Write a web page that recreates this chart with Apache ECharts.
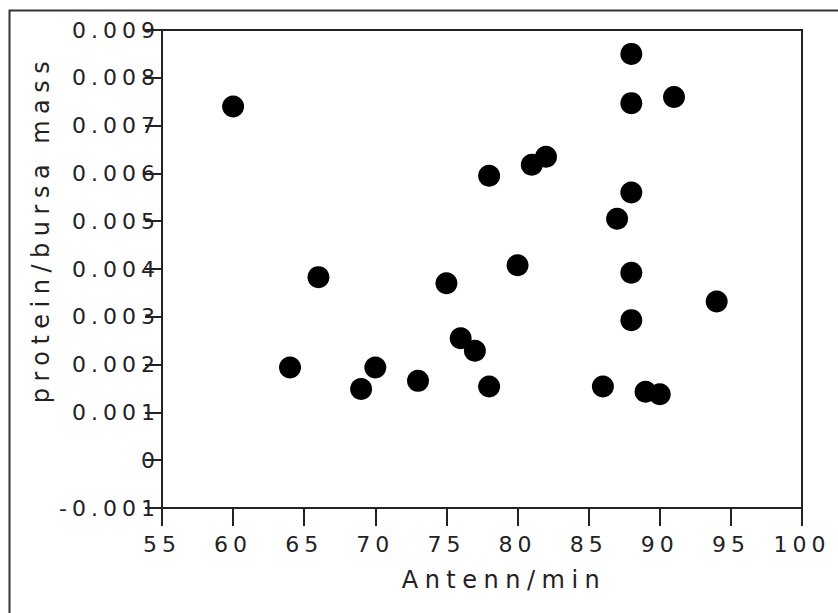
<!DOCTYPE html>
<html>
<head>
<meta charset="utf-8">
<script src="https://cdn.jsdelivr.net/npm/echarts@6/dist/echarts.min.js"></script>
<style>
  html, body { margin: 0; padding: 0; background: #fff; }
  #chart { width: 838px; height: 613px; }
  #chart svg text { letter-spacing: 5px; }
  #chart svg text.title { letter-spacing: 6.5px; }
</style>
</head>
<body>
<div id="chart"></div>
<script>
// Data
const antennPerMin = [60, 88, 91, 88, 82, 81, 78, 88, 87, 80, 88, 94, 88, 78, 86, 89, 90, 66, 75, 76, 77, 64, 70, 69, 73];
const proteinPerBursaMass = [0.0074, 0.0085, 0.0076, 0.00747, 0.00635, 0.00618, 0.00595, 0.0056, 0.00505, 0.00408, 0.00392, 0.00332, 0.00293, 0.00154, 0.00154, 0.00143, 0.00138, 0.00383, 0.0037, 0.00255, 0.00229, 0.00194, 0.00194, 0.00149, 0.00166];
const xTickLabels = ['55', '60', '65', '70', '75', '80', '85', '90', '95', '100'];
const yTickLabels = ['-0.001', '0', '0.001', '0.002', '0.003', '0.004', '0.005', '0.006', '0.007', '0.008', '0.009'];
const xTitle = 'Antenn/min';
const yTitle = 'protein/bursa mass';

const points = antennPerMin.map((x, i) => [x, proteinPerBursaMass[i]]);
const xMin = Number(xTickLabels[0]), xMax = Number(xTickLabels[xTickLabels.length - 1]);
const xStep = Number(xTickLabels[1]) - Number(xTickLabels[0]);
const yMin = Number(yTickLabels[0]), yMax = Number(yTickLabels[yTickLabels.length - 1]);
const yStep = 0.001;

function yLabel(v) {
  const idx = Math.round((v - yMin) / yStep);
  return yTickLabels[idx] !== undefined ? yTickLabels[idx] : '';
}
function xLabel(v) {
  const idx = Math.round((v - xMin) / xStep);
  return xTickLabels[idx] !== undefined ? xTickLabels[idx] : '';
}

const chart = echarts.init(document.getElementById('chart'), null, { renderer: 'svg' });
const font = "'DejaVu Sans', sans-serif";
const ink = '#222';

chart.setOption({
  animation: false,
  backgroundColor: '#fff',
  grid: {
    left: 162, top: 30, right: 36, bottom: 105,
    show: true, borderColor: ink, borderWidth: 2, backgroundColor: 'transparent'
  },
  xAxis: {
    type: 'value', min: xMin, max: xMax, interval: xStep,
    splitLine: { show: false },
    axisLine: { show: true, onZero: false, lineStyle: { color: ink, width: 2 } },
    axisTick: { show: true, inside: false, length: 18, lineStyle: { color: ink, width: 2 } },
    axisLabel: { formatter: xLabel, color: ink, fontFamily: font, fontSize: 22, margin: 25, showMinLabel: true, showMaxLabel: true }
  },
  yAxis: {
    type: 'value', min: yMin, max: yMax, interval: yStep,
    splitLine: { show: false },
    axisLine: { show: true, onZero: false, lineStyle: { color: ink, width: 2 } },
    axisTick: { show: true, inside: false, length: 17, lineStyle: { color: ink, width: 2 } },
    axisLabel: { formatter: yLabel, color: ink, fontFamily: font, fontSize: 22, margin: 2, showMinLabel: true, showMaxLabel: true }
  },
  graphic: [
    {
      type: 'rect', left: 7, top: 8, silent: true,
      shape: { x: 7, y: 8, width: 900, height: 700 },
      style: { fill: 'none', stroke: '#333', lineWidth: 2 }
    },
    {
      type: 'text', x: 504, y: 580, silent: true,
      style: { text: xTitle, fill: ink, font: "24px 'DejaVu Sans', sans-serif", align: 'center', verticalAlign: 'middle' }
    },
    {
      type: 'text', x: 41, y: 229, rotation: Math.PI / 2, silent: true,
      style: { text: yTitle, fill: ink, font: "24px 'DejaVu Sans', sans-serif", align: 'center', verticalAlign: 'middle' }
    }
  ],
  series: [{
    type: 'scatter',
    data: points,
    symbol: 'circle',
    symbolSize: 22,
    itemStyle: { color: '#000', opacity: 1 }
  }]
});

// give the axis titles their own letter-spacing
document.querySelectorAll('#chart svg text').forEach(t => {
  if (t.textContent === xTitle || t.textContent === yTitle) t.classList.add('title');
});
</script>
</body>
</html>
